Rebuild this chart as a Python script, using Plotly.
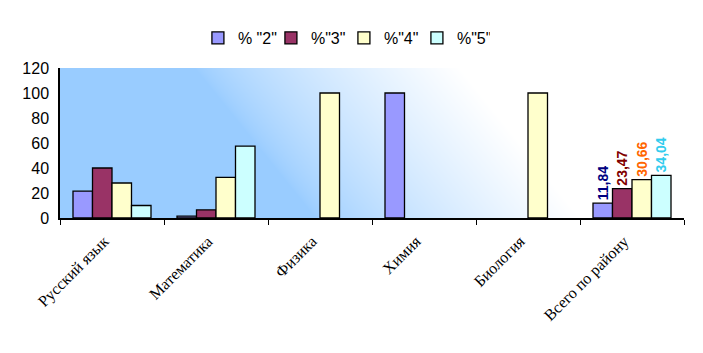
import base64
import struct
import zlib
import numpy as np
import plotly.graph_objects as go

categories = ["Русский язык", "Математика", "Физика", "Химия", "Биология", "Всего по району"]
series_names = ['% "2"', '%"3"', '%"4"', '%"5"']
v2 = [21.5, 1.5, 0, 100, 0, 11.84]
v3 = [40, 6.5, 0, 0, 0, 23.47]
v4 = [28, 32.5, 100, 0, 100, 30.66]
v5 = [10, 57.5, 0, 0, 0, 34.04]
labels_last = ["11,84", "23,47", "30,66", "34,04"]

fills = ["#9999FF", "#993366", "#FFFFCC", "#CCFFFF"]
label_colors = ["#000080", "#800000", "#FF6600", "#33CCEE"]


def gradient_png(w=624, h=150):
    xs = np.arange(w)[None, :].astype(float)
    yf = (np.arange(h)[:, None].astype(float)) / (h - 1)
    start = 135 + 120 * yf
    end = 400 + 120 * yf
    t = np.clip((xs - start) / (end - start), 0, 1) ** 0.75
    c0 = np.array([153, 204, 255], float)
    c1 = np.array([255, 255, 255], float)
    img = (c0[None, None, :] * (1 - t[..., None]) + c1[None, None, :] * t[..., None])
    img = img.round().astype(np.uint8)
    raw = b"".join(b"\x00" + img[r].tobytes() for r in range(h))

    def chunk(tag, data):
        c = struct.pack(">I", len(data)) + tag + data
        return c + struct.pack(">I", zlib.crc32(tag + data) & 0xFFFFFFFF)

    png = b"\x89PNG\r\n\x1a\n"
    png += chunk(b"IHDR", struct.pack(">IIBBBBB", w, h, 8, 2, 0, 0, 0))
    png += chunk(b"IDAT", zlib.compress(raw, 9))
    png += chunk(b"IEND", b"")
    return "data:image/png;base64," + base64.b64encode(png).decode()


bg_uri = gradient_png()

fig = go.Figure()
for i, (name, vals) in enumerate(zip(series_names, [v2, v3, v4, v5])):
    texts = [""] * (len(categories) - 1) + [labels_last[i]]
    lw = [1.3 if v > 0 else 0 for v in vals]
    fig.add_trace(go.Bar(
        x=categories, y=vals, name=name,
        marker=dict(color=fills[i], line=dict(color="black", width=lw)),
        text=texts, textposition="outside", textangle=-90, constraintext="none",
        textfont=dict(family="Liberation Sans, Arial", size=14, color=label_colors[i],
                      weight="bold"),
        cliponaxis=False,
    ))

fig.update_layout(
    width=703, height=353,
    margin=dict(l=60, r=19, t=68, b=135),
    paper_bgcolor="white",
    plot_bgcolor="rgba(0,0,0,0)",
    barmode="group", bargap=0.25, bargroupgap=0,
    font=dict(family="Liberation Sans, Arial", color="black"),
    legend=dict(orientation="h", x=0.455, xanchor="center", y=1.2, yanchor="middle",
                font=dict(size=16), itemwidth=30, traceorder="normal",
                entrywidth=28, entrywidthmode="pixels",
                bgcolor="rgba(0,0,0,0)"),
    images=[dict(source=bg_uri, xref="paper", yref="paper", x=0, y=1,
                 sizex=1, sizey=1, xanchor="left", yanchor="top",
                 sizing="stretch", layer="below")],
    showlegend=True,
)
fig.update_xaxes(
    type="category", showline=True, linecolor="black", linewidth=1.5,
    ticks="outside", tickson="boundaries", ticklen=5, tickcolor="black",
    tickangle=-45, tickfont=dict(family="Liberation Serif, Times New Roman", size=16),
    ticklabelshift=-8, ticklabelstandoff=6,
    showgrid=False, zeroline=False,
)
fig.update_yaxes(
    range=[0, 120], dtick=20, showline=True, linecolor="black", linewidth=1.5,
    ticks="", tickfont=dict(size=16), ticklabelstandoff=6,
    showgrid=False, zeroline=False,
)
fig.write_html("out.html")
